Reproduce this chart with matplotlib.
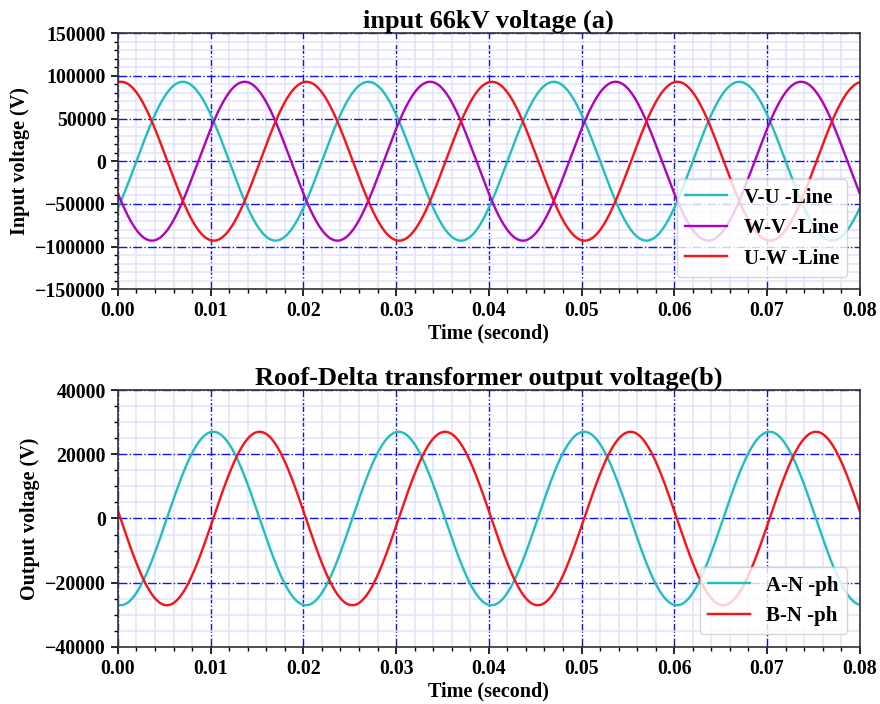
import numpy as np
import matplotlib
matplotlib.use("Agg")
import matplotlib.pyplot as plt
from matplotlib.ticker import MultipleLocator

plt.rcParams['font.family'] = ['Liberation Serif', 'DejaVu Serif']
plt.rcParams['font.weight'] = 'bold'

# ---- data: sinusoid parameters ----
freq_hz = 50.0
t_end = 0.08

top_labels = ["V-U -Line", "W-V -Line", "U-W -Line"]
top_amps = [93000, 93000, 93000]
top_peak_deg = [126, 246, 6]          # phase (deg) where the wave peaks
top_colors = ["#1fbfbf", "#b000c0", "#ff1010"]

bot_labels = ["A-N -ph", "B-N -ph"]
bot_amps = [27000, 27000]
bot_peak_deg = [185, 275]
bot_colors = ["#1fbfbf", "#ff1010"]

top_yticks = [-150000, -100000, -50000, 0, 50000, 100000, 150000]
bot_yticks = [-40000, -20000, 0, 20000, 40000]
xticks = [0.00, 0.01, 0.02, 0.03, 0.04, 0.05, 0.06, 0.07, 0.08]

t = np.linspace(0, t_end, 4001)

fig = plt.figure(figsize=(8.8, 7.04), dpi=100)
ax1 = fig.add_axes([0.134, 0.589, 0.843, 0.364])
ax2 = fig.add_axes([0.134, 0.081, 0.843, 0.365])


def style(ax, yticks, ymin_step):
    ax.set_xlim(0, t_end)
    ax.set_ylim(yticks[0], yticks[-1])
    ax.set_xticks(xticks)
    ax.set_xticklabels([f"{x:.2f}" for x in xticks])
    ax.set_yticks(yticks)
    ax.xaxis.set_minor_locator(MultipleLocator(0.002))
    ax.yaxis.set_minor_locator(MultipleLocator(ymin_step))
    ax.grid(which='major', color='#1010ff', linestyle='-.', linewidth=1.0)
    ax.grid(which='minor', color='#e2e2ff', linestyle='-', linewidth=1.1)
    ax.set_axisbelow(True)
    ax.tick_params(axis='both', which='major', labelsize=14.3, length=5, width=1.2, direction='out')
    ax.tick_params(axis='both', which='minor', length=3, width=1, direction='out')
    for lab in ax.get_xticklabels() + ax.get_yticklabels():
        lab.set_fontweight('bold')
    for sp in ax.spines.values():
        sp.set_color('#333333')
        sp.set_linewidth(1.2)
    ax.set_xlabel("Time (second)", fontsize=14.5, fontweight='bold', labelpad=2)


for a, p, c, l in zip(top_amps, top_peak_deg, top_colors, top_labels):
    ax1.plot(t, a * np.cos(2 * np.pi * freq_hz * t - np.deg2rad(p)), color=c, lw=1.7, label=l)
style(ax1, top_yticks, 10000)
ax1.set_ylabel("Input voltage (V)", fontsize=14.5, fontweight='bold')
ax1.set_title("input 66kV voltage (a)", fontsize=19, fontweight='bold', pad=4)
ax1.legend(loc='lower right', prop={'size': 15, 'weight': 'bold'}, handlelength=2.0,
           borderaxespad=0.6, framealpha=0.8)

for a, p, c, l in zip(bot_amps, bot_peak_deg, bot_colors, bot_labels):
    ax2.plot(t, a * np.cos(2 * np.pi * freq_hz * t - np.deg2rad(p)), color=c, lw=1.7, label=l)
style(ax2, bot_yticks, 5000)
ax2.set_ylabel("Output voltage (V)", fontsize=14.5, fontweight='bold')
ax2.set_title("Roof-Delta transformer output voltage(b)", fontsize=19, fontweight='bold', pad=4)
ax2.legend(loc='lower right', prop={'size': 15, 'weight': 'bold'}, handlelength=2.0,
           borderaxespad=0.6, framealpha=0.8)

fig.savefig("out.png", dpi=100)
